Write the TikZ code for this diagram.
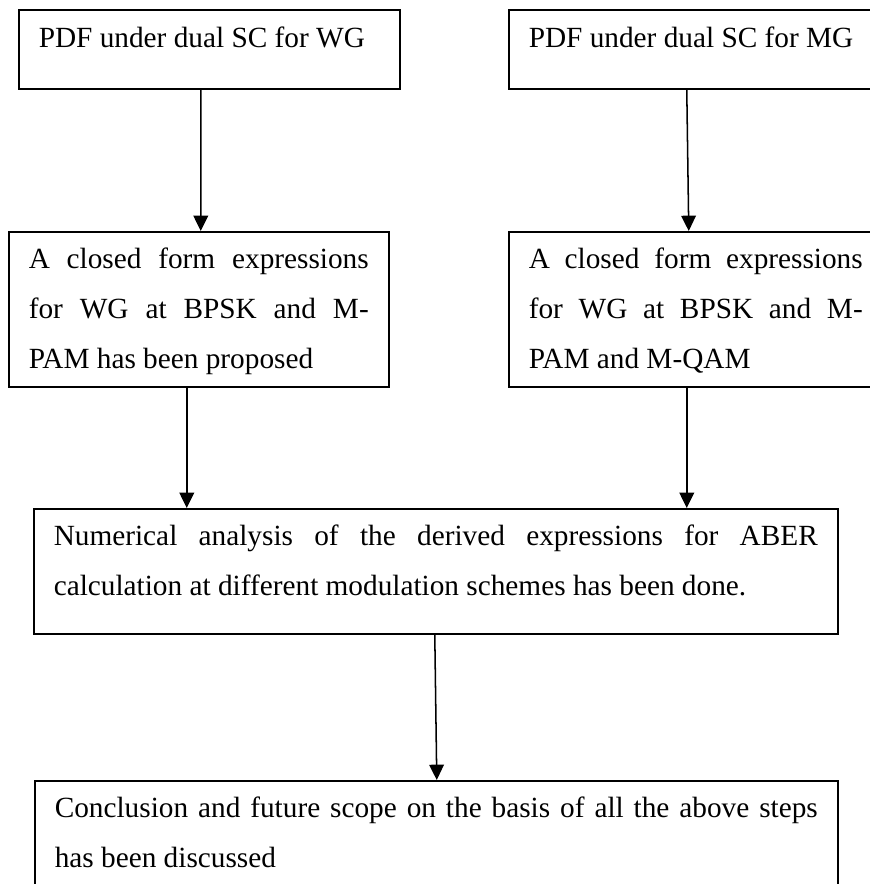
\documentclass[tikz,border=0pt]{standalone}
\usepackage{fontspec}
\setmainfont{Liberation Serif}
\usetikzlibrary{arrows.meta}

\begin{document}
\begin{tikzpicture}
        [x=0.03cm, y=-0.03cm, every node/.style={draw, anchor=north west, align=justify, inner xsep=6mm, inner ysep=0, line width=1.3pt, font=\fontsize{25pt}{42.7pt}\selectfont}, flow/.style={line width=1.3pt, -{Triangle[length=4.6mm, width=4.4mm]}}]

        \path[use as bounding box, fill=white] (0, 0) rectangle (870, 884);

        \node[text width=102.3mm, text height=11.4mm, text depth=12.3mm] (pdfwg) at (18, 9) {PDF under dual SC for WG};
        \node[text width=100.2mm, text height=11.4mm, text depth=12.3mm] (pdfmg) at (508, 9) {PDF under dual SC for MG};
        \node[text width=102mm, text height=11.1mm, text depth=35.4mm] (cfwg) at (8, 231) {A closed form expressions\linebreak for WG at BPSK and M-\linebreak PAM has been proposed};
        \node[text width=100.2mm, text height=11.1mm, text depth=35.4mm] (cfmg) at (508, 231) {A closed form expressions\linebreak for WG at BPSK and M-\linebreak PAM and M-QAM};
        \node[text width=229.2mm, text height=11.1mm, text depth=26.4mm] (numan) at (33, 508) {Numerical analysis of the derived expressions for ABER\linebreak calculation at different modulation schemes has been done.};
        \node[text width=228.9mm, text height=11.1mm, text depth=25mm] (concl) at (34, 780) {Conclusion and future scope on the basis of all the above steps\linebreak has been discussed};

        \draw[flow] ([xshift=-2.55mm]pdfwg.south) -- ([xshift=0.6mm]cfwg.north);
        \draw[flow] ([xshift=-2.7mm]pdfmg.south) -- ([xshift=-2.1mm]cfmg.north);
        \draw[flow] ([xshift=-3.6mm]cfwg.south) -- ([xshift=-3.6mm]cfwg.south |- numan.north);
        \draw[flow] ([xshift=-2.7mm]cfmg.south) -- ([xshift=-2.7mm]cfmg.south |- numan.north);
        \draw[flow] ([xshift=-0.3mm]numan.south) -- ([xshift=0.15mm]concl.north);

      \end{tikzpicture}
\end{document}
